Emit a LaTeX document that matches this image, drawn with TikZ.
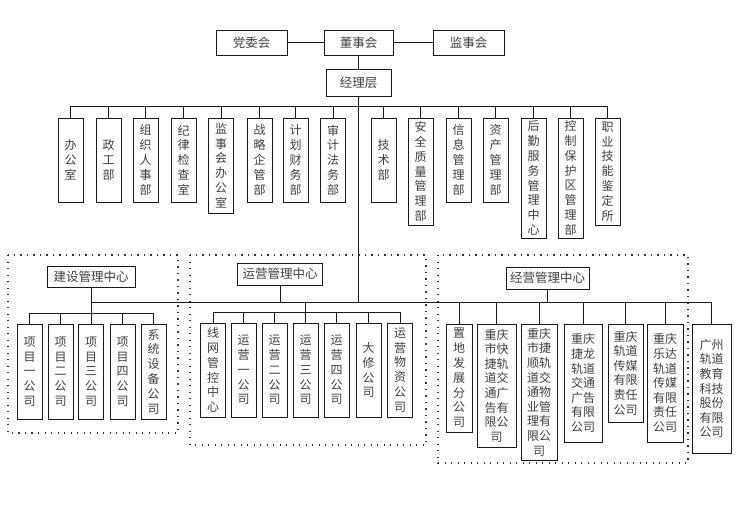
\documentclass[tikz,border=0pt]{standalone}
\usepackage{fontspec}
\newfontfamily\cjk{Noto Sans CJK SC}
\begin{document}
\begin{tikzpicture}[x=1pt,y=-1pt,
  box/.style={draw=black!90, line width=0.8pt, inner sep=0pt, align=center,
    text=black!75, font=\cjk\fontsize{12}{14.8}\selectfont},
  vb/.style={box, minimum width=25pt},
  wb/.style={box, font=\cjk\fontsize{12}{14.6}\selectfont},
  hb/.style={box, font=\cjk\fontsize{12.5}{14}\selectfont},
  conn/.style={line width=0.8pt, black!90},
  grp/.style={line width=1.3pt, dash pattern=on 1.3pt off 5.2pt, black!80}]
\useasboundingbox (0,0) rectangle (738,507);
\fill[white] (0,0) rectangle (738,507);

% top
\node[hb, minimum width=71pt, minimum height=25pt] (dw) at (251.5,42.5) {党委会};
\node[hb, minimum width=69pt, minimum height=25pt] (ds) at (358.5,42.5) {董事会};
\node[hb, minimum width=71pt, minimum height=25pt] (js) at (468.5,42.5) {监事会};
\node[hb, minimum width=65pt, minimum height=27pt] (jl) at (358.5,82.5) {经理层};
\draw[conn] (dw) -- (ds);
\draw[conn] (ds) -- (js);
\draw[conn] (ds) -- (jl);

\coordinate (bus) at (358.5,106);
\coordinate (mainL) at (358.5,302);
\coordinate (sub1) at (91,313);
\coordinate (sub2) at (305.5,312);

% departments
\node[vb, minimum height=84pt] (d1) at (70.5,160) {办\\公\\室};
\node[vb, minimum height=84pt] (d2) at (108.5,160) {政\\工\\部};
\node[vb, minimum height=84pt] (d3) at (145.5,160) {组\\织\\人\\事\\部};
\node[vb, minimum height=84pt] (d4) at (183.5,160) {纪\\律\\检\\查\\室};
\node[vb, minimum height=95pt] (d5) at (221,165.5) {监\\事\\会\\办\\公\\室};
\node[vb, minimum height=84pt] (d6) at (259.5,160) {战\\略\\企\\管\\部};
\node[vb, minimum height=84pt] (d7) at (295.5,160) {计\\划\\财\\务\\部};
\node[vb, minimum height=84pt] (d8) at (333,160) {审\\计\\法\\务\\部};
\node[vb, minimum height=84pt] (d9) at (383.5,160) {技\\术\\部};
\node[vb, minimum height=107pt] (d10) at (420.5,171.5) {安\\全\\质\\量\\管\\理\\部};
\node[vb, minimum height=84pt] (d11) at (458.5,160) {信\\息\\管\\理\\部};
\node[vb, minimum height=84pt] (d12) at (495.5,160) {资\\产\\管\\理\\部};
\node[vb, minimum height=120pt] (d13) at (533.5,178) {后\\勤\\服\\务\\管\\理\\中\\心};
\node[vb, minimum height=120pt] (d14) at (570.5,178) {控\\制\\保\\护\\区\\管\\理\\部};
\node[vb, minimum height=107pt] (d15) at (607.5,171.5) {职\\业\\技\\能\\鉴\\定\\所};

\draw[conn] (d1.north |- bus) -- (d15.north |- bus);
\foreach \n in {d1,d2,d3,d4,d5,d6,d7,d8,d9,d10,d11,d12,d13,d14,d15}
  \draw[conn] (\n.north) -- (\n.north |- bus);
\draw[conn] (jl) -- (mainL);

% groups
\draw[grp] (8,255) rectangle (178,433);
\draw[grp] (190,255) rectangle (426,445);
\draw[grp] (438,255) rectangle (688,463);

% construction
\node[hb, minimum width=88pt, minimum height=21pt] (jsc) at (91,276.5) {建设管理中心};
\node[vb, minimum height=95pt] (p1) at (29.5,371.5) {项\\目\\一\\公\\司};
\node[vb, minimum height=95pt] (p2) at (60.5,371.5) {项\\目\\二\\公\\司};
\node[vb, minimum height=95pt] (p3) at (91,371.5) {项\\目\\三\\公\\司};
\node[vb, minimum height=95pt] (p4) at (122.5,371.5) {项\\目\\四\\公\\司};
\node[vb, minimum height=95pt] (p5) at (153.5,371.5) {系\\统\\设\\备\\公\\司};
\draw[conn] (jsc.south) -- (jsc.south |- sub1);
\draw[conn] (p1.north |- sub1) -- (p5.north |- sub1);
\foreach \n in {p1,p2,p3,p4,p5}
  \draw[conn] (\n.north) -- (\n.north |- sub1);

% operations
\node[hb, minimum width=85pt, minimum height=22pt] (yy) at (280,274) {运营管理中心};
\node[vb, minimum height=94pt] (o1) at (213,370) {线\\网\\管\\控\\中\\心};
\node[vb, minimum height=94pt] (o2) at (243.5,370) {运\\营\\一\\公\\司};
\node[vb, minimum height=94pt] (o3) at (274.5,370) {运\\营\\二\\公\\司};
\node[vb, minimum height=94pt] (o4) at (305.5,370) {运\\营\\三\\公\\司};
\node[vb, minimum height=94pt] (o5) at (336.5,370) {运\\营\\四\\公\\司};
\node[vb, minimum height=94pt] (o6) at (368.5,370) {大\\修\\公\\司};
\node[vb, minimum height=94pt] (o7) at (400,370) {运\\营\\物\\资\\公\\司};
\draw[conn] (yy.south) -- (yy.south |- mainL);
\draw[conn] (o4.north |- mainL) -- (o4.north |- sub2);
\draw[conn] (o1.north |- sub2) -- (o7.north |- sub2);
\foreach \n in {o1,o2,o3,o4,o5,o6,o7}
  \draw[conn] (\n.north) -- (\n.north |- sub2);

% business
\node[hb, minimum width=83pt, minimum height=22pt] (jy) at (547.5,278) {经营管理中心};
\node[vb, minimum width=26pt, minimum height=108pt] (c1) at (459,378) {置\\地\\发\\展\\分\\公\\司};
\node[wb, minimum width=39pt, minimum height=123pt] (c2) at (496.5,385.5) {重庆\\市快\\捷轨\\道交\\通广\\告有\\限公\\司};
\node[wb, minimum width=36pt, minimum height=136pt] (c3) at (539,392) {重庆\\市捷\\顺轨\\道交\\通物\\业管\\理有\\限公\\司};
\node[wb, minimum width=38pt, minimum height=118pt] (c4) at (583,383) {重庆\\捷龙\\轨道\\交通\\广告\\有限\\公司};
\node[wb, minimum width=35pt, minimum height=98pt] (c5) at (625.5,373) {重庆\\轨道\\传媒\\有限\\责任\\公司};
\node[wb, minimum width=36pt, minimum height=118pt] (c6) at (665,383) {重庆\\乐达\\轨道\\传媒\\有限\\责任\\公司};
\node[wb, minimum width=39pt, minimum height=129pt] (c7) at (711.5,388.5) {广州\\轨道\\教育\\科技\\股份\\有限\\公司};
\draw[conn] (jy.south) -- (jy.south |- mainL);
\foreach \n in {c1,c2,c3,c4,c5,c6,c7}
  \draw[conn] (\n.north) -- (\n.north |- mainL);

% main horizontal line
\draw[conn] (jsc.south |- mainL) -- (c7.north |- mainL);
\end{tikzpicture}
\end{document}
